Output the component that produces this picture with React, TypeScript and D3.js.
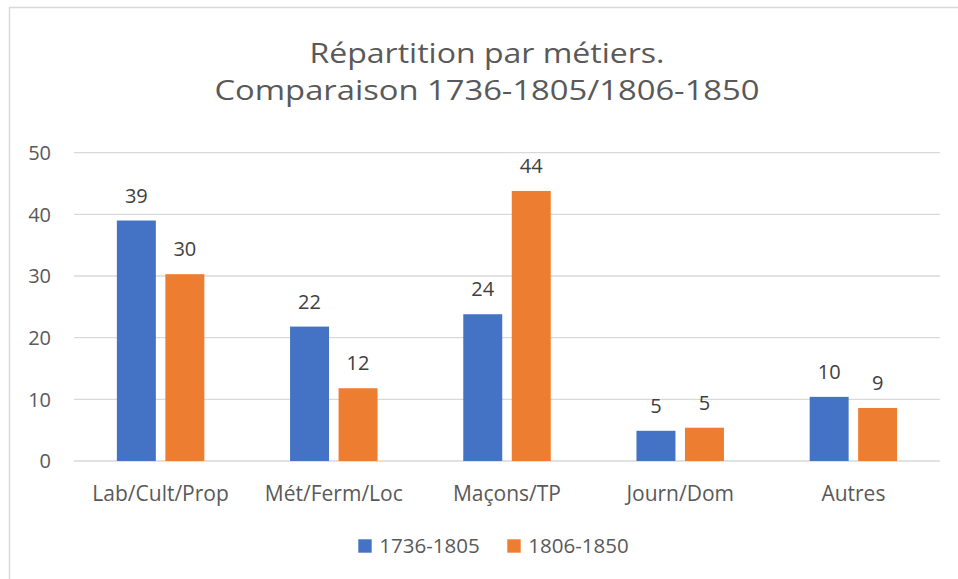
import React, { useEffect, useRef } from 'react';
import * as d3 from 'd3';

const categories = ['Lab/Cult/Prop', 'Mét/Ferm/Loc', 'Maçons/TP', 'Journ/Dom', 'Autres'];
const seriesNames = ['1736-1805', '1806-1850'];
const values1736 = [39.0, 21.8, 23.8, 4.9, 10.4];
const values1806 = [30.3, 11.8, 43.8, 5.4, 8.6];
const yTicks = [0, 10, 20, 30, 40, 50];
const colors = ['#4472C4', '#ED7D31'];
const titleLines = ['Répartition par métiers.', 'Comparaison 1736-1805/1806-1850'];

const FONT = '"Open Sans", "Noto Sans", sans-serif';

export default function App() {
  const ref = useRef<SVGSVGElement>(null);

  useEffect(() => {
    const width = 958, height = 579;
    const plot = { left: 74, right: 940, top: 152.7, bottom: 461 };

    const svg = d3.select(ref.current).attr('width', width).attr('height', height);
    svg.selectAll('*').remove();

    svg.append('rect').attr('width', width).attr('height', height).attr('fill', '#fff');
    // chart frame (extends past the right and bottom edges)
    svg.append('rect').attr('x', 9.5).attr('y', 7.5).attr('width', 980).attr('height', 600)
      .attr('fill', 'none').attr('stroke', '#d9d9d9').attr('stroke-width', 1.5);

    // title
    const titleWidths = [355, 545];
    svg.selectAll('.title').data(titleLines).join('text').attr('class', 'title')
      .attr('x', 487).attr('y', (d, i) => 63.3 + i * 37)
      .attr('text-anchor', 'middle').attr('font-family', FONT).attr('font-size', 28)
      .attr('fill', '#595959')
      .attr('textLength', (d, i) => titleWidths[i]).attr('lengthAdjust', 'spacingAndGlyphs')
      .text(d => d);

    const x = d3.scaleBand().domain(categories).range([plot.left, plot.right]);
    const y = d3.scaleLinear().domain([0, 50]).range([plot.bottom, plot.top]);

    const band = x.bandwidth();
    const barW = band * 0.225;
    const gap = band * 0.055;
    const offset = (band - (2 * barW + gap)) / 2;

    // gridlines
    svg.append('g').selectAll('line').data(yTicks).join('line')
      .attr('x1', plot.left).attr('x2', plot.right)
      .attr('y1', d => y(d)).attr('y2', d => y(d))
      .attr('stroke', '#d9d9d9').attr('stroke-width', 1.3);

    // y tick labels
    svg.append('g').selectAll('text').data(yTicks).join('text')
      .attr('x', 51).attr('y', d => y(d)).attr('dy', '0.36em')
      .attr('text-anchor', 'end').attr('font-family', FONT).attr('font-size', 20)
      .attr('fill', '#595959').text(d => d);

    const series = [values1736, values1806];
    series.forEach((vals, s) => {
      const g = svg.append('g');
      const bx = (c: string) => (x(c) as number) + offset + s * (barW + gap);
      g.selectAll('rect').data(categories).join('rect')
        .attr('x', c => bx(c)).attr('width', barW)
        .attr('y', (c, i) => y(vals[i])).attr('height', (c, i) => y(0) - y(vals[i]))
        .attr('fill', colors[s]);
      g.selectAll('text').data(categories).join('text')
        .attr('x', c => bx(c) + barW / 2).attr('y', (c, i) => y(vals[i]) - 18)
        .attr('text-anchor', 'middle').attr('font-family', FONT).attr('font-size', 20)
        .attr('fill', '#404040').text((c, i) => Math.round(vals[i]));
    });

    // category labels
    svg.append('g').selectAll('text').data(categories).join('text')
      .attr('x', c => (x(c) as number) + band / 2).attr('y', 500.7)
      .attr('text-anchor', 'middle').attr('font-family', FONT).attr('font-size', 21)
      .attr('fill', '#595959').text(c => c);

    // legend
    const legendX = [358.3, 507.3];
    const lg = svg.append('g').selectAll('g').data(seriesNames).join('g')
      .attr('transform', (d, i) => `translate(${legendX[i]}, 539.3)`);
    lg.append('rect').attr('width', 13.4).attr('height', 13.4).attr('fill', (d, i) => colors[i]);
    lg.append('text').attr('x', 21).attr('y', 14).attr('font-family', FONT).attr('font-size', 20.5)
      .attr('fill', '#595959').text(d => d);
  }, []);

  return (
    <svg ref={ref} style={{ position: 'absolute', left: 0, top: 0, display: 'block' }}></svg>
  );
}
